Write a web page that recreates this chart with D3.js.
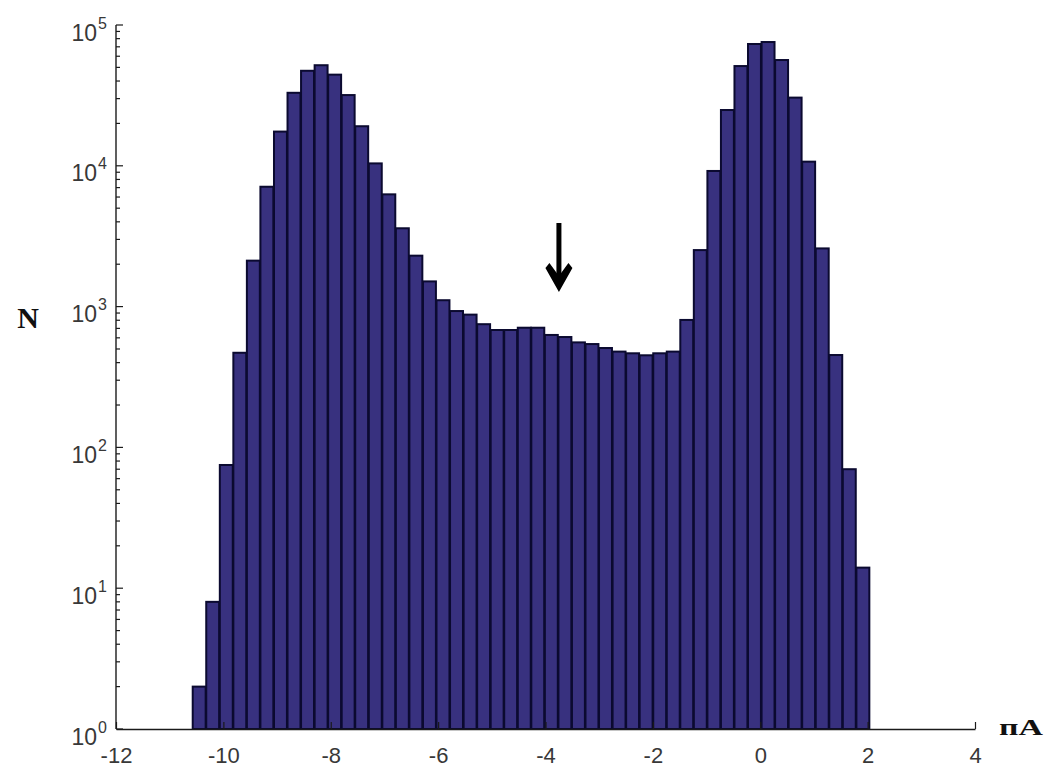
<!DOCTYPE html>
<html>
<head>
<meta charset="utf-8">
<script src="https://cdn.jsdelivr.net/npm/d3@7"></script>
<style>
  html, body { margin: 0; padding: 0; background: #fff; }
  svg { display: block; }
</style>
</head>
<body>
<svg id="chart" width="1046" height="767"></svg>
<script>
// ---- data ----
const binCenters = [
  -10.445, -10.193, -9.940, -9.688, -9.436, -9.184, -8.931, -8.679, -8.427, -8.174,
  -7.922, -7.670, -7.418, -7.165, -6.913, -6.661, -6.409, -6.156, -5.904, -5.652,
  -5.399, -5.147, -4.895, -4.643, -4.390, -4.138, -3.886, -3.633, -3.381, -3.129,
  -2.877, -2.624, -2.372, -2.120, -1.867, -1.615, -1.363, -1.111, -0.858, -0.606,
  -0.354, -0.102, 0.151, 0.403, 0.655, 0.907, 1.160, 1.412, 1.664, 1.917
];
const binWidth = 0.2523;
const counts = [
  2, 8, 75, 470, 2120, 7100, 17500, 33000, 47300, 51800,
  44400, 31800, 19100, 10400, 6270, 3600, 2300, 1510, 1110, 930,
  877, 750, 682, 682, 708, 708, 629, 608, 557, 542,
  508, 479, 466, 451, 466, 479, 804, 2520, 9190, 24900,
  51100, 73300, 75700, 56400, 30500, 10700, 2590, 453, 70, 14
];
const xTicks = [-12, -10, -8, -6, -4, -2, 0, 2, 4];
const yExponents = [0, 1, 2, 3, 4, 5];
const arrowX = -3.75, arrowTop = 3925, arrowTip = 1270;
const yLabel = "N", xLabel = "пА";

// ---- scales ----
const svg = d3.select("#chart");
const x = d3.scaleLinear().domain([-12, 4]).range([116, 975]);
const y = d3.scaleLog().domain([1, 1e5]).range([729, 25]);

const axisColor = "#1a1a1a";
const textColor = "#383838";

// bars
svg.append("g").selectAll("rect").data(binCenters).join("rect")
  .attr("x", (d) => x(d - binWidth / 2))
  .attr("width", (d) => x(d + binWidth / 2) - x(d - binWidth / 2) - 0.6)
  .attr("y", (d, i) => y(counts[i]))
  .attr("height", (d, i) => y(1) - y(counts[i]))
  .attr("fill", "#38317f")
  .attr("stroke", "#0b0a30")
  .attr("stroke-width", 2);

// x axis
const gx = svg.append("g").attr("transform", `translate(0,${y(1)})`)
  .call(d3.axisBottom(x).tickValues(xTicks).tickSizeInner(-7).tickSizeOuter(0).tickFormat(d3.format("d")));
gx.select(".domain").attr("stroke", axisColor).attr("stroke-width", 1.4);
gx.selectAll(".tick line").attr("stroke", axisColor).attr("stroke-width", 1.2);
gx.selectAll(".tick text")
  .attr("y", 0).attr("dy", null)
  .attr("transform", "translate(0,34)")
  .attr("fill", textColor)
  .style("font-family", "'Liberation Sans', Arial, sans-serif")
  .style("font-size", "22px")
  .text((d) => (d < 0 ? "-" + Math.abs(d) : String(d)));

// y axis
const minorTicks = [];
for (let e = 0; e < 5; e++) for (let m = 2; m <= 9; m++) minorTicks.push(m * Math.pow(10, e));
const gy = svg.append("g").attr("transform", `translate(${x(-12)},0)`);
gy.append("line").attr("y1", y(1)).attr("y2", y(1e5)).attr("stroke", axisColor).attr("stroke-width", 1.4);
gy.selectAll("line.minor").data(minorTicks).join("line").attr("class", "minor")
  .attr("x1", 0).attr("x2", 4).attr("y1", (d) => y(d)).attr("y2", (d) => y(d))
  .attr("stroke", axisColor).attr("stroke-width", 1.2);
gy.selectAll("line.major").data(yExponents).join("line").attr("class", "major")
  .attr("x1", 0).attr("x2", 7).attr("y1", (d) => y(Math.pow(10, d))).attr("y2", (d) => y(Math.pow(10, d)))
  .attr("stroke", axisColor).attr("stroke-width", 1.2);
const lab = gy.selectAll("text.ylab").data(yExponents).join("text").attr("class", "ylab")
  .attr("x", -9).attr("y", (d) => y(Math.pow(10, d)) + 15.5)
  .attr("text-anchor", "end")
  .attr("fill", textColor)
  .style("font-family", "'Liberation Sans', Arial, sans-serif")
  .style("font-size", "23px");
lab.append("tspan").text("10");
lab.append("tspan").attr("dx", 1).attr("dy", -12).style("font-size", "16px").text((d) => String(d));

// axis titles
svg.append("text").attr("x", 28).attr("y", 328).attr("text-anchor", "middle")
  .style("font-family", "'Liberation Serif', 'Times New Roman', serif")
  .style("font-weight", "bold").style("font-size", "30px").attr("fill", "#111")
  .text(yLabel);
svg.append("text").attr("x", 999).attr("y", 735)
  .attr("textLength", 44).attr("lengthAdjust", "spacingAndGlyphs")
  .style("font-family", "'Liberation Serif', 'Times New Roman', serif")
  .style("font-weight", "bold").style("font-size", "23px").attr("fill", "#111")
  .text(xLabel);

// arrow
const ax = x(arrowX), ayTop = y(arrowTop), ayTip = y(arrowTip);
svg.append("line").attr("x1", ax).attr("x2", ax).attr("y1", ayTop).attr("y2", ayTip - 10)
  .attr("stroke", "#000").attr("stroke-width", 5);
svg.append("path")
  .attr("d", `M${ax - 13.5},${ayTip - 24} L${ax - 9.5},${ayTip - 29} L${ax},${ayTip - 16} L${ax + 9.5},${ayTip - 29} L${ax + 13.5},${ayTip - 24} L${ax},${ayTip} Z`)
  .attr("fill", "#000");
</script>
</body>
</html>
